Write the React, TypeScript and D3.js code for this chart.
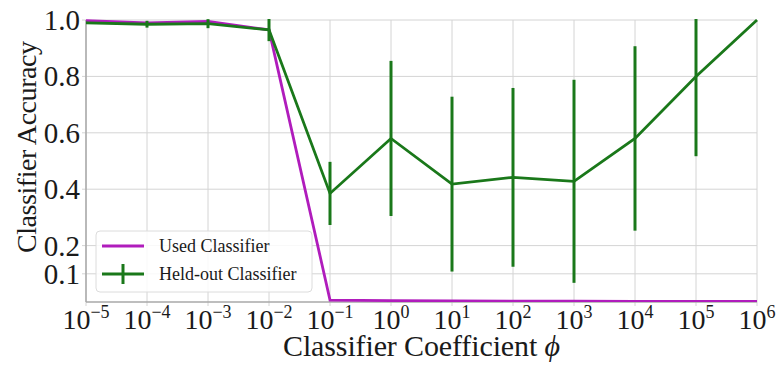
import { useEffect } from 'react';
import * as d3 from 'd3';

// exponents of the classifier coefficient phi (10^k)
const exponents = [-5, -4, -3, -2, -1, 0, 1, 2, 3, 4, 5, 6];
const usedAcc = [0.998, 0.99, 0.995, 0.965, 0.007, 0.005, 0.004, 0.003, 0.003, 0.002, 0.002, 0.002];
const heldAcc = [0.99, 0.985, 0.987, 0.965, 0.385, 0.58, 0.418, 0.442, 0.428, 0.58, 0.8, 1.0];
const heldErr = [0.004, 0.012, 0.016, 0.04, 0.112, 0.275, 0.31, 0.317, 0.36, 0.327, 0.283, 0.0];
const yTicks = [0.1, 0.2, 0.4, 0.6, 0.8, 1.0];

const W = 781;
const H = 365;
const margin = { top: 20, right: 24, bottom: 63, left: 86 };
const PURPLE = '#b01cbc';
const GREEN = '#1a781a';
const FONT = "'Liberation Serif', 'DejaVu Serif', serif";

export default function App() {
  useEffect(() => {
    document.body.style.margin = '0';
  }, []);

  const x = d3.scaleLog().domain([1e-5, 1e6]).range([margin.left, W - margin.right]);
  const y = d3.scaleLinear().domain([0, 1]).range([H - margin.bottom, margin.top]);

  const pts = (vals: number[]) => exponents.map((e, i) => [x(Math.pow(10, e)), y(vals[i])] as [number, number]);
  const line = d3.line();

  const x0 = margin.left;
  const x1 = W - margin.right;
  const y0 = H - margin.bottom;
  const y1 = margin.top;

  return (
    <svg width={W} height={H} style={{ display: 'block', background: '#fff', fontFamily: FONT }}>
      <defs>
        <clipPath id="plot">
          <rect x={x0} y={y1 - 1} width={x1 - x0 + 2} height={y0 - y1 + 1} />
        </clipPath>
      </defs>

      {/* grid + small outward ticks */}
      {exponents.map(e => (
        <line key={'gx' + e} x1={x(Math.pow(10, e))} x2={x(Math.pow(10, e))} y1={y1} y2={y0 + 4} stroke="#d4d4d4" strokeWidth={1} />
      ))}
      {yTicks.map(t => (
        <line key={'gy' + t} x1={x0 - 4} x2={x1} y1={y(t)} y2={y(t)} stroke="#d4d4d4" strokeWidth={1} />
      ))}

      {/* spines */}
      <line x1={x0} x2={x0} y1={y1} y2={y0} stroke="#a8a8a8" strokeWidth={1.5} />
      <line x1={x0} x2={x1} y1={y0} y2={y0} stroke="#a8a8a8" strokeWidth={1.5} />

      <g clipPath="url(#plot)">
        <path d={line(pts(usedAcc)) || ''} fill="none" stroke={PURPLE} strokeWidth={2.8} />
        <path d={line(pts(heldAcc)) || ''} fill="none" stroke={GREEN} strokeWidth={2.8} />
        {exponents.map((e, i) =>
          heldErr[i] > 0 ? (
            <line
              key={'eb' + e}
              x1={x(Math.pow(10, e))}
              x2={x(Math.pow(10, e))}
              y1={y(heldAcc[i] - heldErr[i])}
              y2={y(heldAcc[i] + heldErr[i])}
              stroke={GREEN}
              strokeWidth={3}
            />
          ) : null
        )}
      </g>

      {/* y tick labels */}
      {yTicks.map(t => (
        <text key={'ty' + t} x={x0 - 6} y={y(t) + 10} textAnchor="end" fontSize={29} fill="#1a1a1a">
          {t.toFixed(1)}
        </text>
      ))}

      {/* x tick labels */}
      {exponents.map(e => (
        <text key={'tx' + e} x={x(Math.pow(10, e))} y={329} textAnchor="middle" fontSize={28} fill="#1a1a1a">
          10
          <tspan dy={-11} fontSize={18}>
            {e < 0 ? '\u2212' + Math.abs(e) : String(e)}
          </tspan>
        </text>
      ))}

      {/* axis labels */}
      <text x={(x0 + x1) / 2} y={356} textAnchor="middle" fontSize={30} fill="#1a1a1a" textLength={277} lengthAdjust="spacing">
        Classifier Coefficient <tspan fontStyle="italic">ϕ</tspan>
      </text>
      <text transform="translate(36,147) rotate(-90)" textAnchor="middle" fontSize={28} fill="#1a1a1a" textLength={212} lengthAdjust="spacing">
        Classifier Accuracy
      </text>

      {/* legend */}
      <g>
        <rect x={96} y={231} width={216} height={61} rx={4} fill="#fff" fillOpacity={0.85} stroke="#dcdcdc" />
        <line x1={102} x2={144} y1={246} y2={246} stroke={PURPLE} strokeWidth={2.8} />
        <text x={159} y={252} fontSize={18} fill="#1a1a1a">Used Classifier</text>
        <line x1={102} x2={144} y1={274} y2={274} stroke={GREEN} strokeWidth={2.8} />
        <line x1={123} x2={123} y1={264} y2={284} stroke={GREEN} strokeWidth={3} />
        <text x={159} y={280} fontSize={18} fill="#1a1a1a">Held-out Classifier</text>
      </g>
    </svg>
  );
}
